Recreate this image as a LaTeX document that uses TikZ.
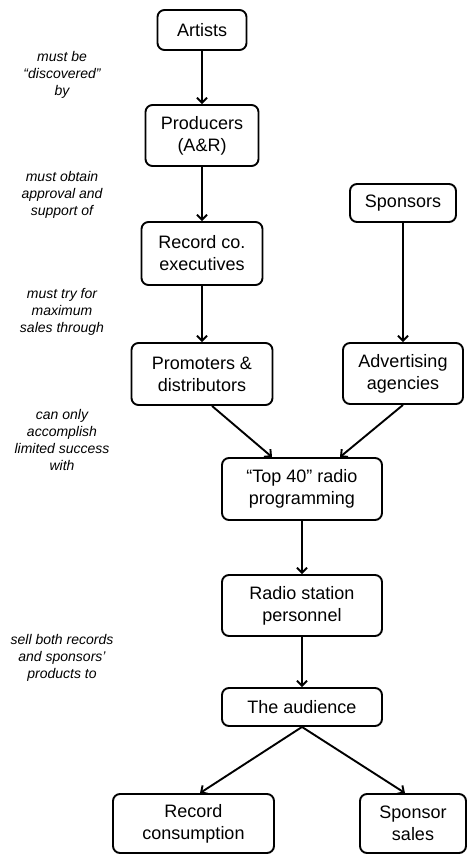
\documentclass[tikz,border=0pt]{standalone}
\usepackage{fontspec}
\setmainfont{Liberation Sans}
\usetikzlibrary{arrows.meta}

\begin{document}
\begin{tikzpicture}[x=1pt,y=-1pt]
	\tikzstyle{every node}+=[inner sep=0pt]
	\tikzstyle{box}=[draw, line width=1.9pt, rounded corners=7pt, align=center, font=\fontsize{18}{22}\selectfont]
	\tikzstyle{note}=[align=center, font=\itshape\fontsize{14}{17}\selectfont]
	\tikzstyle{link}=[line width=1.9pt, -{Straight Barb[length=5pt,width=10pt,line width=1.9pt]}]
	\useasboundingbox (0,0) rectangle (468,855);
	% boxes
	\node [box, minimum width=89pt, minimum height=40pt] (artists) at (202,30) {Artists};
	\node [box, minimum width=113pt, minimum height=61pt] (producers) at (202,135.5) {Producers\\(A\&R)};
	\node [box, minimum width=121pt, minimum height=63pt] (executives) at (202,253.5) {Record co.\\executives};
	\node [box, minimum width=106pt, minimum height=38pt] (sponsors) at (403,203) {Sponsors};
	\node [box, minimum width=141pt, minimum height=62pt] (promoters) at (202,374) {Promoters \&\\distributors};
	\node [box, minimum width=120pt, minimum height=61pt] (agencies) at (403,373.5) {Advertising\\agencies};
	\node [box, minimum width=160pt, minimum height=62pt] (top) at (302,489) {``Top 40'' radio\\programming};
	\node [box, minimum width=160pt, minimum height=61pt] (radio) at (302,605.5) {Radio station\\personnel};
	\node [box, minimum width=160pt, minimum height=38pt] (audience) at (302,707) {The audience};
	\node [box, minimum width=161pt, minimum height=59pt] (consumption) at (193.5,823.5) {Record\\consumption};
	\node [box, minimum width=106pt, minimum height=59pt] (sales) at (413,823.5) {Sponsor\\sales};
	% notes
	\node [note] (n1) at (62,75) {must be\\``discovered''\\by};
	\node [note] (n2) at (62,195) {must obtain\\approval and\\support of};
	\node [note] (n3) at (62,312) {must try for\\maximum\\sales through};
	\node [note] (n4) at (62,440) {can only\\accomplish\\limited success\\with};
	\node [note] (n5) at (62,658) {sell both records\\and sponsors'\\products to};
	% connectors
	\draw [link] (artists) -- (producers);
	\draw [link] (producers) -- (executives);
	\draw [link] (executives) -- (promoters);
	\draw [link] (sponsors) -- (agencies);
	\draw [link] ([xshift=10pt]promoters.south) -- ([xshift=-30pt]top.north);
	\draw [link] (agencies.south) -- ([xshift=38pt]top.north);
	\draw [link] (top) -- (radio);
	\draw [link] (radio) -- (audience);
	\draw [link] (audience.south) -- ([xshift=6.5pt]consumption.north);
	\draw [link] (audience.south) -- ([xshift=-8pt]sales.north);
\end{tikzpicture}
\end{document}
